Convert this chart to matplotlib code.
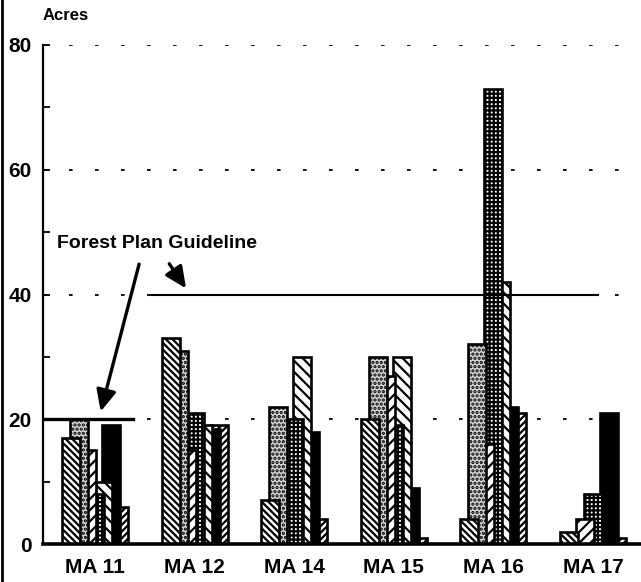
import numpy as np
import matplotlib
matplotlib.use("Agg")
import matplotlib.pyplot as plt
from matplotlib.lines import Line2D

# data
groups = ["MA 11", "MA 12", "MA 14", "MA 15", "MA 16", "MA 17"]
s1 = [17, 33, 7, 20, 4, 2]        # dense backslash
s2 = [20, 31, 22, 30, 32, 0]      # stipple
s3 = [15, 15, 0, 27, 16, 4]       # forward slash
s4 = [8, 21, 20, 19, 73, 8]       # grid
s5 = [10, 19, 30, 30, 42, 0]      # wide backslash
s6 = [19, 18.5, 18, 9, 22, 21]    # solid black
s7 = [6, 19, 4, 1, 21, 1]         # dense forward slash
guide_ma11 = 20
guide_other = 40

plt.rcParams["font.family"] = ["Liberation Sans", "DejaVu Sans"]
plt.rcParams["font.weight"] = "bold"
plt.rcParams["hatch.linewidth"] = 1.6
plt.rcParams["hatch.color"] = "black"

fig = plt.figure(figsize=(6.41, 5.82), dpi=100)
ax = fig.add_axes([43 / 641, 38 / 582, 598 / 641, 499 / 582])

x = np.arange(len(groups))
step = 0.0803
width = 0.181

styles = [
    dict(facecolor="white", hatch="\\\\\\\\\\"),
    dict(facecolor="#d6d6d6", hatch="...."),
    dict(facecolor="white", hatch="///"),
    dict(facecolor="white", hatch="++++"),
    dict(facecolor="white", hatch="\\\\\\"),
    dict(facecolor="black", hatch=None),
    dict(facecolor="white", hatch="/////"),
]
series = [s1, s2, s3, s4, s5, s6, s7]
for i, (vals, st) in enumerate(zip(series, styles)):
    ax.bar(x + (i - 3) * step, vals, width, edgecolor="black", linewidth=1.9,
           zorder=10 - i, **st)

# dotted grid
for yv in [20, 40, 60, 80]:
    ax.axhline(yv, color="black", lw=1.3, ls=(0, (2, 12.4)), zorder=0)

# forest plan guideline
ax.plot([-0.6, 0.38], [guide_ma11, guide_ma11], color="black", lw=2.4, zorder=12)
ax.plot([0.55, 5.05], [guide_other, guide_other], color="black", lw=1.5, zorder=12)

ax.text(-0.38, 48.2, "Forest Plan Guideline", fontsize=14, fontweight="bold",
        va="center", ha="left")
ax.annotate("", xy=(0.05, 20.8), xytext=(0.45, 45.3),
            arrowprops=dict(arrowstyle="-|>,head_length=1.3,head_width=0.6",
                            color="black", lw=2.4))
ax.annotate("", xy=(0.93, 40.6), xytext=(0.73, 45.3),
            arrowprops=dict(arrowstyle="-|>,head_length=1.3,head_width=0.6",
                            color="black", lw=2.4))

ax.set_xlim(-0.522, 5.482)
ax.set_ylim(0, 80)
ax.set_xticks(x)
ax.set_xticklabels(groups, fontsize=15, fontweight="bold")
ax.set_yticks([0, 20, 40, 60, 80])
ax.set_yticklabels(["0", "20", "40", "60", "80"], fontsize=15, fontweight="bold")
ax.set_yticks([10, 30, 50, 70], minor=True)
ax.tick_params(axis="x", length=0, pad=10)
ax.tick_params(axis="y", which="both", direction="in", length=5, width=1.3, pad=8)

for side in ["top", "right"]:
    ax.spines[side].set_visible(False)
ax.spines["left"].set_linewidth(1.6)
ax.spines["bottom"].set_linewidth(2.6)
ax.spines["bottom"].set_zorder(20)

fig.text(43 / 641, 1 - 15 / 582, "Acres", fontsize=12, fontweight="bold",
         ha="left", va="center")

# edge of the scanned page
fig.add_artist(Line2D([1.5 / 641, 1.5 / 641], [0, 1], color="black", lw=2,
                      transform=fig.transFigure))

fig.savefig("out.png", dpi=100)
